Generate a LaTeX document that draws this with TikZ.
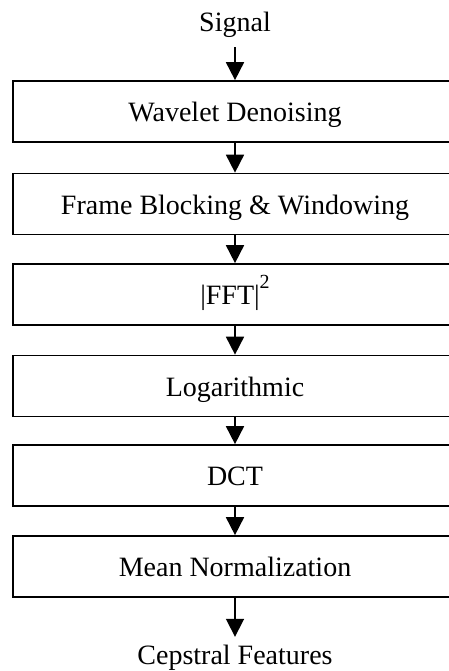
\documentclass[tikz,border=0pt]{standalone}
\usepackage{fontspec}
\setmainfont{Liberation Serif}
\usetikzlibrary{arrows.meta}
\begin{document}
\begin{tikzpicture}[x=1pt,y=1pt,
  box/.style={draw, line width=1.7pt, minimum width=444pt, minimum height=61pt, inner sep=0pt, text height=20pt, text depth=0pt, font=\fontsize{28}{33}\selectfont},
  lbl/.style={inner sep=0pt, font=\fontsize{28}{33}\selectfont},
  arr/.style={line width=1.8pt, -{Triangle[width=18pt,length=18pt]}}]
\useasboundingbox (0,0) rectangle (449,-671);
\clip (0,0) rectangle (449,-671);
\node[lbl, anchor=base, text depth=6pt] (sig) at (235,-32) {Signal};
\node[box] (b1) at (235,-111.5) {Wavelet Denoising};
\node[box] (b2) at (235,-204) {Frame Blocking \& Windowing};
\node[box] (b3) at (235,-294.5) {|FFT|\raisebox{16pt}{\fontsize{20}{22}\selectfont 2}};
\node[box] (b4) at (235,-386) {Logarithmic};
\node[box] (b5) at (235,-475.5) {DCT};
\node[box] (b6) at (235,-566.5) {Mean Normalization};
\node[lbl, anchor=base, text height=19pt] (cep) at (235,-664) {Cepstral Features};
\draw[arr, shorten <=9pt] (sig.south) -- (b1.north);
\draw[arr] (b1.south) -- (b2.north);
\draw[arr] (b2.south) -- (b3.north);
\draw[arr] (b3.south) -- (b4.north);
\draw[arr] (b4.south) -- (b5.north);
\draw[arr] (b5.south) -- (b6.north);
\draw[arr, shorten >=8pt] (b6.south) -- (cep.north);
\end{tikzpicture}
\end{document}
